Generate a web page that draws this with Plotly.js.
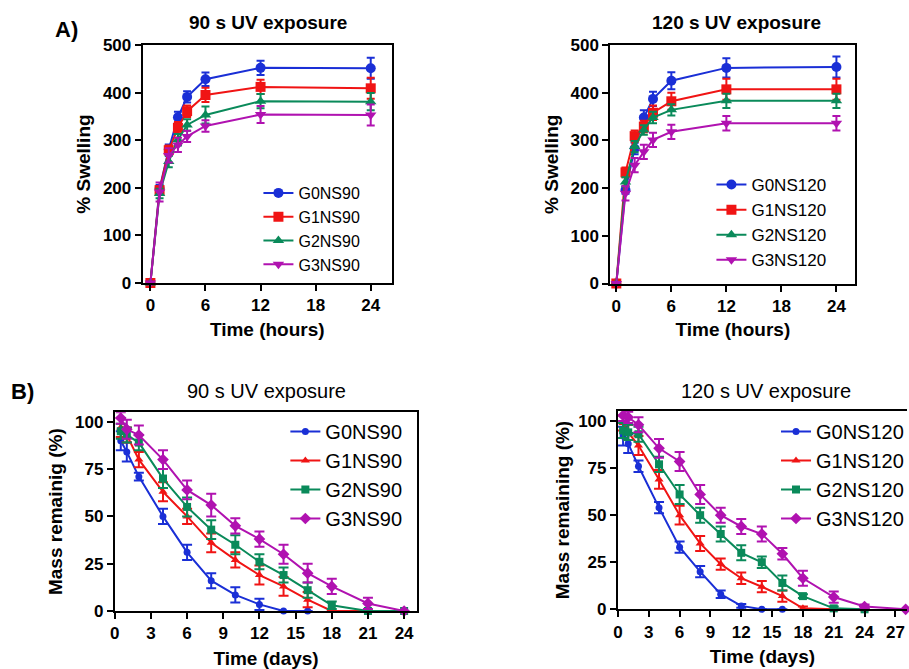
<!DOCTYPE html>
<html>
<head>
<meta charset="utf-8">
<script src="https://cdn.plot.ly/plotly-3.0.1.min.js"></script>
<style>html,body{margin:0;padding:0;background:#fff;}#chart{width:909px;height:669px;}</style>
</head>
<body>
<div id="chart"></div>
<script>
// ---------- Data: swelling (hours) ----------
const hours = [0, 1, 2, 3, 4, 6, 12, 24];
const sw90_G0 = [0, 198, 281, 348, 391, 428, 452, 451];
const sw90_G1 = [0, 195, 279, 326, 361, 395, 412, 409];
const sw90_G2 = [0, 188, 255, 301, 332, 353, 382, 381];
const sw90_G3 = [0, 191, 268, 290, 308, 330, 354, 353];
const sw90_G0_err = [0, 8, 10, 12, 12, 14, 15, 22];
const sw90_G1_err = [0, 8, 10, 12, 12, 15, 15, 22];
const sw90_G2_err = [0, 10, 12, 12, 12, 18, 15, 18];
const sw90_G3_err = [0, 20, 15, 15, 12, 12, 18, 22];

const sw120_G0 = [0, 196, 283, 348, 387, 425, 452, 454];
const sw120_G1 = [0, 233, 309, 329, 358, 382, 407, 407];
const sw120_G2 = [0, 213, 287, 322, 348, 364, 383, 383];
const sw120_G3 = [0, 189, 248, 276, 301, 318, 336, 336];
const sw120_G0_err = [0, 8, 12, 15, 15, 18, 20, 22];
const sw120_G1_err = [0, 10, 12, 12, 15, 18, 22, 22];
const sw120_G2_err = [0, 10, 12, 10, 12, 12, 15, 15];
const sw120_G3_err = [0, 15, 15, 15, 15, 15, 15, 15];

// ---------- Data: degradation (days) ----------
const d90_G0_x = [0.5, 1, 2, 4, 6, 8, 10, 12, 14, 16];
const d90_G0 = [90, 84, 71, 50, 31, 16, 8.5, 3.5, 0, 0];
const d90_G0_err = [5, 5, 2, 4, 4, 4, 4, 3, 0, 0];
const d90_G1_x = [0.5, 1, 2, 4, 6, 8, 10, 12, 14, 16, 18, 21];
const d90_G1 = [97, 93, 80, 63, 50, 36, 27, 19, 13, 6, 0, 0];
const d90_G1_err = [5, 4, 4, 5, 4, 5, 4, 5, 5, 4, 0, 0];
const d90_G2_x = [0.5, 1, 2, 4, 6, 8, 10, 12, 14, 16, 18, 21, 24];
const d90_G2 = [95, 93, 89, 70, 55, 43, 35, 26, 19, 11, 3, 0, 0];
const d90_G2_err = [4, 4, 4, 5, 5, 5, 5, 4, 4, 4, 2, 0, 0];
const d90_G3_x = [0.5, 1, 2, 4, 6, 8, 10, 12, 14, 16, 18, 21, 24];
const d90_G3 = [102, 96, 93, 80, 64, 56, 45, 38, 30, 20, 13, 4, 0];
const d90_G3_err = [3, 5, 5, 5, 5, 6, 4, 4, 5, 5, 4, 3, 0];

const d120_G0_x = [0.5, 1, 2, 4, 6, 8, 10, 12, 14, 16];
const d120_G0 = [92, 88, 76, 54, 33, 20, 8, 1.8, 0, 0];
const d120_G0_err = [5, 5, 3, 3, 3, 3, 2, 1, 0, 0];
const d120_G1_x = [0.5, 1, 2, 4, 6, 8, 10, 12, 14, 16, 18, 21, 24];
const d120_G1 = [99, 94, 87, 69, 50, 35, 24, 16.5, 12, 7, 0.5, 0, 0];
const d120_G1_err = [4, 4, 5, 5, 5, 4, 3, 3, 3, 3, 1, 0, 0];
const d120_G2_x = [0.5, 1, 2, 4, 6, 8, 10, 12, 14, 16, 18, 21, 24];
const d120_G2 = [95, 94, 93, 77, 61, 50, 40, 30, 25, 14, 7, 0.5, 0];
const d120_G2_err = [4, 4, 4, 4, 5, 4, 4, 4, 3, 4, 1, 1, 0];
const d120_G3_x = [0.5, 1, 2, 4, 6, 8, 10, 12, 14, 16, 18, 21, 24, 28];
const d120_G3 = [103, 102, 98, 85.5, 78.5, 61, 50, 44, 40, 29.5, 16.5, 6.5, 1.5, 0];
const d120_G3_err = [3, 3, 4, 5, 5, 5, 4, 4, 4, 3, 4, 3, 1, 0];

// ---------- Styles ----------
const FONT = 'Liberation Sans, Arial, Helvetica, sans-serif';
const C = {blue: '#1a2fd6', red: '#f01414', green: '#0a8a5a', mag: '#b012b0'};

function tr(name, x, y, err, color, symbol, msize, xa, ya, legend, capw) {
  return {
    type: 'scatter', mode: 'lines+markers', name: name, x: x, y: y,
    xaxis: xa, yaxis: ya, legend: legend, cliponaxis: false,
    line: {color: color, width: 2},
    marker: {color: color, symbol: symbol, size: msize},
    error_y: {type: 'data', array: err, visible: true, color: color, thickness: 2, width: capw}
  };
}

const data = [
  tr('G0NS90', hours, sw90_G0, sw90_G0_err, C.blue, 'circle', 10, 'x', 'y', 'legend', 4),
  tr('G1NS90', hours, sw90_G1, sw90_G1_err, C.red, 'square', 10, 'x', 'y', 'legend', 4),
  tr('G2NS90', hours, sw90_G2, sw90_G2_err, C.green, 'triangle-up', 10, 'x', 'y', 'legend', 4),
  tr('G3NS90', hours, sw90_G3, sw90_G3_err, C.mag, 'triangle-down', 10, 'x', 'y', 'legend', 4),

  tr('G0NS120', hours, sw120_G0, sw120_G0_err, C.blue, 'circle', 10, 'x2', 'y2', 'legend2', 4),
  tr('G1NS120', hours, sw120_G1, sw120_G1_err, C.red, 'square', 10, 'x2', 'y2', 'legend2', 4),
  tr('G2NS120', hours, sw120_G2, sw120_G2_err, C.green, 'triangle-up', 10, 'x2', 'y2', 'legend2', 4),
  tr('G3NS120', hours, sw120_G3, sw120_G3_err, C.mag, 'triangle-down', 10, 'x2', 'y2', 'legend2', 4),

  tr('G0NS90', d90_G0_x, d90_G0, d90_G0_err, C.blue, 'circle', 7, 'x3', 'y3', 'legend3', 5),
  tr('G1NS90', d90_G1_x, d90_G1, d90_G1_err, C.red, 'triangle-up', 8, 'x3', 'y3', 'legend3', 5),
  tr('G2NS90', d90_G2_x, d90_G2, d90_G2_err, C.green, 'square', 8, 'x3', 'y3', 'legend3', 5),
  tr('G3NS90', d90_G3_x, d90_G3, d90_G3_err, C.mag, 'diamond', 9, 'x3', 'y3', 'legend3', 5),

  tr('G0NS120', d120_G0_x, d120_G0, d120_G0_err, C.blue, 'circle', 7, 'x4', 'y4', 'legend4', 5),
  tr('G1NS120', d120_G1_x, d120_G1, d120_G1_err, C.red, 'triangle-up', 8, 'x4', 'y4', 'legend4', 5),
  tr('G2NS120', d120_G2_x, d120_G2, d120_G2_err, C.green, 'square', 8, 'x4', 'y4', 'legend4', 5),
  tr('G3NS120', d120_G3_x, d120_G3, d120_G3_err, C.mag, 'diamond', 9, 'x4', 'y4', 'legend4', 5)
];

function axis(domain, range, dtick, anchor, mirror, tsize, title, tfs, standoff) {
  return {
    domain: domain, range: range, tick0: 0, dtick: dtick, anchor: anchor,
    showline: true, linecolor: '#000', linewidth: 2, mirror: mirror,
    ticks: 'outside', ticklen: 6, tickwidth: 2, tickcolor: '#000',
    showgrid: false, zeroline: false, fixedrange: true,
    tickfont: {family: FONT, size: tsize, color: '#000', weight: 'bold'},
    title: {text: title, font: {family: FONT, size: tfs, color: '#000', weight: 'bold'}, standoff: standoff}
  };
}

function leg(x, y, size) {
  return {x: x, y: y, xanchor: 'left', yanchor: 'top', bgcolor: 'rgba(0,0,0,0)',
          borderwidth: 0, font: {family: FONT, size: size, color: '#000'}, tracegroupgap: 0};
}

const W = 909, H = 669;
const px = v => v / W, py = v => 1 - v / H;

const layout = {
  width: W, height: H,
  margin: {l: 0, r: 0, t: 0, b: 0},
  paper_bgcolor: '#fff', plot_bgcolor: '#fff',
  showlegend: true,
  xaxis: axis([px(143), px(392.7)], [-0.84, 26.3], 6, 'y', true, 17, 'Time (hours)', 19, 8),
  yaxis: axis([py(283), py(45)], [0, 500], 100, 'x', true, 17, '% Swelling', 19, 7),
  xaxis2: axis([px(611.7), px(857.3)], [-0.65, 26.07], 6, 'y2', true, 17, 'Time (hours)', 19, 8),
  yaxis2: axis([py(283.5), py(45)], [0, 500], 100, 'x2', true, 17, '% Swelling', 19, 7),
  xaxis3: axis([px(115), px(418.3)], [0, 25.1], 3, 'y3', true, 17, 'Time (days)', 19, 9),
  yaxis3: axis([py(611), py(412.3)], [0, 105], 25, 'x3', true, 17, 'Mass remainig (%)', 19, 7),
  xaxis4: axis([px(619.3), 1], [0, 28.13], 3, 'y4', true, 17, 'Time (days)', 19, 9),
  yaxis4: axis([py(609.3), py(410.7)], [0, 105.5], 25, 'x4', false, 17, 'Mass remaining (%)', 19, 4),
  legend: leg(px(259), py(176), 16),
  legend2: leg(px(713), py(167), 17),
  legend3: leg(px(286), py(412), 20),
  legend4: leg(px(778), py(412), 20),
  annotations: [
    {text: '90 s UV exposure', x: px(269), y: py(22.5), xref: 'paper', yref: 'paper', showarrow: false,
     font: {family: FONT, size: 19, color: '#000', weight: 'bold'}, xanchor: 'center', yanchor: 'middle'},
    {text: '120 s UV exposure', x: px(738), y: py(22.5), xref: 'paper', yref: 'paper', showarrow: false,
     font: {family: FONT, size: 19, color: '#000', weight: 'bold'}, xanchor: 'center', yanchor: 'middle'},
    {text: '90 s UV exposure', x: px(266.7), y: py(391), xref: 'paper', yref: 'paper', showarrow: false,
     font: {family: FONT, size: 20, color: '#000'}, xanchor: 'center', yanchor: 'middle'},
    {text: '120 s UV exposure', x: px(768), y: py(391), xref: 'paper', yref: 'paper', showarrow: false,
     font: {family: FONT, size: 20, color: '#000'}, xanchor: 'center', yanchor: 'middle'},
    {text: 'A)', x: px(67), y: py(29), xref: 'paper', yref: 'paper', showarrow: false,
     font: {family: FONT, size: 22, color: '#000', weight: 'bold'}, xanchor: 'center', yanchor: 'middle'},
    {text: 'B)', x: px(23), y: py(391), xref: 'paper', yref: 'paper', showarrow: false,
     font: {family: FONT, size: 22, color: '#000', weight: 'bold'}, xanchor: 'center', yanchor: 'middle'}
  ]
};

Plotly.newPlot('chart', data, layout, {displayModeBar: false, staticPlot: true});
</script>
</body>
</html>
